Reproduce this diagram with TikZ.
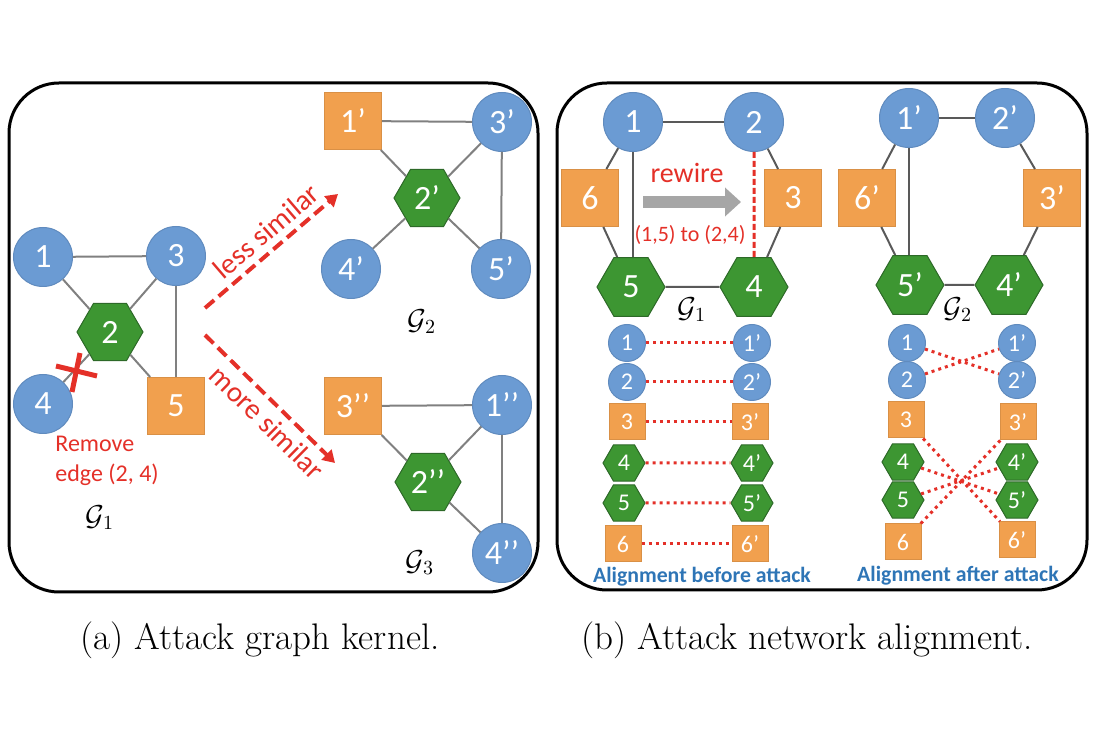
\documentclass[tikz,border=0pt]{standalone}
\usepackage{fontspec}
\newfontfamily\carl{Carlito}
\usetikzlibrary{shapes.geometric,arrows.meta}
\definecolor{nblue}{RGB}{107,155,211}
\definecolor{norange}{RGB}{241,160,78}
\definecolor{ngreen}{RGB}{61,150,50}
\definecolor{ngreenD}{RGB}{45,105,40}
\definecolor{egray}{RGB}{128,128,128}
\definecolor{ared}{RGB}{228,48,40}
\definecolor{tblue}{RGB}{46,117,182}
\definecolor{agray}{RGB}{166,166,166}
\tikzset{
  nbase/.style={inner sep=0pt, text=white, line width=0.5pt},
  bc/.style={nbase, circle, fill=nblue, draw=nblue!90!black, minimum size=29.5pt, font=\carl\fontsize{17}{17}\selectfont},
  sq/.style={nbase, rectangle, fill=norange, draw=norange!90!black, minimum size=28.5pt, font=\carl\fontsize{17}{17}\selectfont},
  hx/.style={nbase, regular polygon, regular polygon sides=6, fill=ngreen, draw=ngreenD, minimum size=33pt, font=\carl\fontsize{17}{17}\selectfont},
  sc/.style={nbase, circle, fill=nblue, draw=nblue!90!black, minimum size=18.5pt, font=\carl\fontsize{12}{12}\selectfont},
  ssq/.style={nbase, rectangle, fill=norange, draw=norange!90!black, minimum size=18pt, font=\carl\fontsize{12}{12}\selectfont},
  shx/.style={nbase, regular polygon, regular polygon sides=6, fill=ngreen, draw=ngreenD, minimum size=21pt, font=\carl\fontsize{12}{12}\selectfont},
  edge/.style={draw=egray, line width=1pt},
  dedge/.style={draw=black!65, line width=1pt},
  simarrow/.style={draw=ared, line width=2pt, dash pattern=on 6pt off 3pt, -{Triangle[length=6pt,width=7pt]}},
  aligned/.style={draw=ared, line width=1.5pt, dash pattern=on 1.5pt off 2pt},
  redtxt/.style={text=ared, font=\carl\fontsize{12}{15}\selectfont},
  simtxt/.style={text=ared, font=\carl\fontsize{14.5}{14.5}\selectfont, inner sep=1pt},
  glabel/.style={font=\fontsize{14}{14}\selectfont},
  panel/.style={draw=black, line width=1.5pt, rounded corners=25pt},
  caption/.style={font=\fontsize{18.5}{18.5}\selectfont, anchor=base},
  atext/.style={text=tblue, font=\carl\bfseries\fontsize{10.9}{10.9}\selectfont}
}
\begin{document}
\begin{tikzpicture}[x=0.5pt,y=-0.5pt]
\useasboundingbox (0,0) rectangle (1100,732);
% panels
\draw[panel] (9,83) rectangle (538,592);
\draw[panel] (557,83) rectangle (1087,590);

% ---------- panel (a) : G1
\node[bc] (a1) at (43,257) {1};
\node[bc] (a3) at (176,256) {3};
\node[hx] (a2) at (110,332) {2};
\node[bc] (a4) at (43,404) {4};
\node[sq] (a5) at (176,406) {5};
\draw[edge] (a1) -- (a3);
\draw[edge] (a1) -- (a2);
\draw[edge] (a3) -- (a2);
\draw[edge] (a3) -- (a5);
\draw[edge] (a2) -- (a5);
\draw[edge] (a2) -- (a4);
% red cross on removed edge
\draw[ared, line width=2.5pt] (56,366) -- (97,376);
\draw[ared, line width=2.5pt] (80,353) -- (72,392);
\node[redtxt, anchor=north west, align=left, inner sep=0pt] (rm) at (55,436) {Remove\\edge (2, 4)};
\node[glabel] (g1a) at (100,518) {$\mathcal{G}_1$};

% arrows
\coordinate (la0) at (205,308);
\coordinate (la1) at (338,194);
\coordinate (ma0) at (205,335);
\coordinate (ma1) at (335,463);
\draw[simarrow] (la0) -- (la1);
\draw[simarrow] (ma0) -- (ma1);
\path (la0) -- (la1) node[pos=0.55, above=3pt, sloped, simtxt] (ls) {less similar};
\path (ma0) -- (ma1) node[pos=0.58, below=3pt, sloped, simtxt] (ms) {more similar};

% G2
\node[sq] (b1) at (353,121) {1’};
\node[bc] (b3) at (502,122) {3’};
\node[hx] (b2) at (427,198) {2’};
\node[bc] (b4) at (351,269) {4’};
\node[bc] (b5) at (501,269) {5’};
\draw[edge] (b1) -- (b3);
\draw[edge] (b1) -- (b2);
\draw[edge] (b3) -- (b2);
\draw[edge] (b3) -- (b5);
\draw[edge] (b2) -- (b5);
\draw[edge] (b2) -- (b4);
\node[glabel] (g2a) at (422,322) {$\mathcal{G}_2$};

% G3
\node[sq] (c3) at (353,406) {3’’};
\node[bc] (c1) at (502,405) {1’’};
\node[hx] (c2) at (428,482) {2’’};
\node[bc] (c4) at (502,553) {4’’};
\draw[edge] (c3) -- (c1);
\draw[edge] (c3) -- (c2);
\draw[edge] (c1) -- (c2);
\draw[edge] (c1) -- (c4);
\draw[edge] (c2) -- (c4);
\node[glabel] (g3a) at (420,563) {$\mathcal{G}_3$};

% ---------- panel (b) : G1
\node[bc] (r1) at (633,122) {1};
\node[bc] (r2) at (754,122) {2};
\node[sq] (r6) at (590,198) {6};
\node[sq] (r3) at (793,198) {3};
\node[hx, minimum size=34pt] (r5) at (631,287) {5};
\node[hx, minimum size=34pt] (r4) at (754,287) {4};
\draw[dedge] (r1) -- (r2);
\draw[dedge] (r1) -- (r6);
\draw[dedge] (r6) -- (r5);
\draw[dedge] (r1) -- (r1 |- r5.north);
\draw[dedge] (r5) -- (r4);
\draw[dedge] (r4) -- (r3);
\draw[dedge] (r3) -- (r2);
\draw[ared, line width=1.5pt, dash pattern=on 3pt off 1.5pt] (r2) -- (r4);
\coordinate (rw0) at (643,202);
\coordinate (rw1) at (741,202);
\draw[agray, line width=6pt, -{Triangle[length=8pt,width=14pt]}] (rw0) -- (rw1);
\node[redtxt, font=\carl\fontsize{14}{14}\selectfont] (rwt) at (687,173) {rewire};
\node[redtxt, font=\carl\fontsize{11}{11}\selectfont] (rwl) at (690,235) {(1,5) to (2,4)};
\node[glabel] (g1b) at (692,310) {$\mathcal{G}_1$};

% G2
\node[bc] (s1) at (909,118) {1’};
\node[bc] (s2) at (1005,118) {2’};
\node[sq] (s6) at (867,198) {6’};
\node[sq] (s3) at (1052,198) {3’};
\node[hx, minimum size=34pt] (s5) at (910,285) {5’};
\node[hx, minimum size=34pt] (s4) at (1009,285) {4’};
\draw[dedge] (s1) -- (s2);
\draw[dedge] (s1) -- (s6);
\draw[dedge] (s6) -- (s5);
\draw[dedge] (s1) -- (s1 |- s5.north);
\draw[dedge] (s5) -- (s4);
\draw[dedge] (s4) -- (s3);
\draw[dedge] (s3) -- (s2);
\node[glabel] (g2b) at (958,310) {$\mathcal{G}_2$};

% alignment before
\node[sc] (u1) at (627,343) {1};
\node[sc] (u2) at (627,382) {2};
\node[ssq] (u3) at (627,422) {3};
\node[shx] (u4) at (624,463) {4};
\node[shx] (u5) at (624,503) {5};
\node[ssq] (u6) at (623,544) {6};
\node[sc] (v1) at (752,343) {1’};
\node[sc] (v2) at (752,382) {2’};
\node[ssq] (v3) at (750,422) {3’};
\node[shx] (v4) at (752,463) {4’};
\node[shx] (v5) at (752,503) {5’};
\node[ssq] (v6) at (750,544) {6’};
\foreach \i in {1,...,6} {\draw[aligned] (u\i) -- (v\i);}
\node[atext] (bt) at (702,577) {Alignment before attack};

% alignment after
\node[sc] (w1) at (907,343) {1};
\node[sc] (w2) at (907,380) {2};
\node[ssq] (w3) at (906,420) {3};
\node[shx] (w4) at (903,462) {4};
\node[shx] (w5) at (903,500) {5};
\node[ssq] (w6) at (903,542) {6};
\node[sc] (z1) at (1017,343) {1’};
\node[sc] (z2) at (1017,380) {2’};
\node[ssq] (z3) at (1018,422) {3’};
\node[shx] (z4) at (1017,462) {4’};
\node[shx] (z5) at (1017,500) {5’};
\node[ssq] (z6) at (1017,540) {6’};
\draw[aligned] (w1) -- (z2);
\draw[aligned] (w2) -- (z1);
\draw[aligned] (w3) -- (z6);
\draw[aligned] (w4) -- (z5);
\draw[aligned] (w5) -- (z4);
\draw[aligned] (w6) -- (z3);
\node[atext] (at) at (958,576) {Alignment after attack};

% captions
\node[caption] (capa) at (260,650) {(a) Attack graph kernel.};
\node[caption] (capb) at (807,650) {(b) Attack network alignment.};
\end{tikzpicture}
\end{document}
